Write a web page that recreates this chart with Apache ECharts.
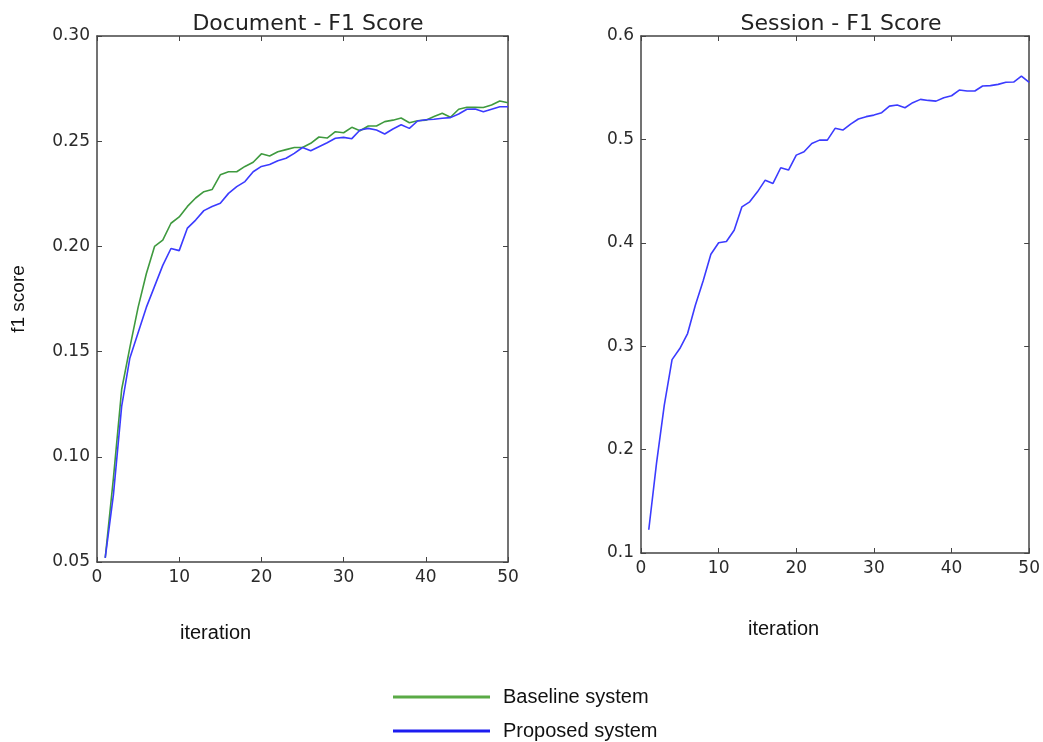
<!DOCTYPE html>
<html>
<head>
<meta charset="utf-8">
<script src="https://cdn.jsdelivr.net/npm/echarts@6/dist/echarts.min.js"></script>
<style>
html,body{margin:0;padding:0;background:#fff;}
#chart{width:1043px;height:742px;}
</style>
</head>
<body>
<div id="chart"></div>
<script>
const iterations = [1,2,3,4,5,6,7,8,9,10,11,12,13,14,15,16,17,18,19,20,21,22,23,24,25,26,27,28,29,30,31,32,33,34,35,36,37,38,39,40,41,42,43,44,45,46,47,48,49,50];

const baselineDocument = [0.052,0.090,0.132,0.152,0.171,0.187,0.200,0.203,0.211,0.214,0.219,0.223,0.226,0.227,0.234,0.2355,0.2355,0.238,0.240,0.244,0.243,0.245,0.246,0.247,0.247,0.249,0.252,0.2515,0.2545,0.254,0.2566,0.255,0.2572,0.2572,0.2593,0.260,0.261,0.2588,0.2597,0.260,0.2617,0.2633,0.2614,0.2652,0.2661,0.2661,0.266,0.2672,0.2691,0.2683];

const proposedDocument = [0.052,0.082,0.124,0.147,0.159,0.171,0.181,0.191,0.199,0.198,0.2087,0.2125,0.217,0.219,0.2205,0.2252,0.2284,0.2308,0.2355,0.238,0.2389,0.2407,0.2419,0.2442,0.247,0.2455,0.2474,0.2493,0.2514,0.2518,0.2512,0.2553,0.2561,0.2553,0.2534,0.2558,0.2578,0.2561,0.2596,0.2602,0.2604,0.2609,0.2612,0.2629,0.2652,0.2653,0.264,0.2652,0.2664,0.2664];

const proposedSession = [0.1225,0.187,0.243,0.287,0.2977,0.3122,0.3396,0.363,0.389,0.400,0.4013,0.4122,0.4348,0.4396,0.4493,0.4606,0.4574,0.4726,0.4703,0.4848,0.488,0.4961,0.4993,0.4993,0.5107,0.509,0.5148,0.5197,0.522,0.5235,0.5258,0.5322,0.5332,0.5306,0.5355,0.5387,0.5377,0.537,0.5403,0.5422,0.5477,0.5468,0.5468,0.5516,0.552,0.5532,0.5552,0.5555,0.5613,0.5552];

const xTicks = {min: 0, max: 50, interval: 10};
const docTicks = {min: 0.05, max: 0.30, interval: 0.05};
const sessTicks = {min: 0.1, max: 0.6, interval: 0.1};

const titles = ['Document - F1 Score', 'Session - F1 Score'];
const seriesNames = ['Baseline system', 'Proposed system'];

const GREEN = '#3f9a3f';
const BLUE = '#3b3bff';
const FRAME = '#444';
const TICKFONT = 'DejaVu Sans';

function pairs(arr){ return iterations.map((x,i)=>[x, arr[i]]); }

function xAxes(gi){
  const base = {
    type:'value', gridIndex: gi, min: xTicks.min, max: xTicks.max, interval: xTicks.interval,
    splitLine:{show:false},
    axisLine:{show:true, onZero:false, lineStyle:{color:FRAME, width:1.5}},
    axisTick:{show:true, inside:true, length:5, lineStyle:{color:FRAME, width:1}}
  };
  return [
    Object.assign({}, base, {position:'bottom',
      axisLabel:{show:true, margin:7, color:'#2a2a2a', fontSize:17, fontFamily:TICKFONT}}),
    Object.assign({}, base, {position:'top', axisLabel:{show:false}})
  ];
}
function yAxes(gi, t, dec){
  const base = {
    type:'value', gridIndex: gi, min: t.min, max: t.max, interval: t.interval,
    splitLine:{show:false},
    axisLine:{show:true, onZero:false, lineStyle:{color:FRAME, width:1.5}},
    axisTick:{show:true, inside:true, length:5, lineStyle:{color:FRAME, width:1}}
  };
  return [
    Object.assign({}, base, {position:'left',
      axisLabel:{show:true, margin:7, color:'#2a2a2a', fontSize:17, fontFamily:TICKFONT,
        formatter: v => Number(v).toFixed(dec)}}),
    Object.assign({}, base, {position:'right', axisLabel:{show:false}})
  ];
}

const yLeft = yAxes(0, docTicks, 2);
yLeft[0].name = 'f1 score';
yLeft[0].nameLocation = 'middle';
yLeft[0].nameRotate = 90;
yLeft[0].nameGap = 69;
yLeft[0].nameTextStyle = {fontSize:19, color:'#111', fontFamily:'Liberation Sans'};

const legendText = {fontSize:20, color:'#111', fontFamily:'Liberation Sans', lineHeight:22, padding:[0,0,0,8]};

const chart = echarts.init(document.getElementById('chart'), null, {renderer:'canvas'});
chart.setOption({
  backgroundColor:'#fff',
  animation:false,
  title:[
    {text:titles[0], left:303, top:8, textAlign:'center',
      textStyle:{fontSize:22, fontWeight:'normal', color:'#222', fontFamily:TICKFONT}},
    {text:titles[1], left:836, top:8, textAlign:'center',
      textStyle:{fontSize:22, fontWeight:'normal', color:'#222', fontFamily:TICKFONT}}
  ],
  graphic:[
    {type:'text', left:180, top:623, style:{text:'iteration', fontSize:20, fill:'#111', fontFamily:'Liberation Sans'}},
    {type:'text', left:748, top:619, style:{text:'iteration', fontSize:20, fill:'#111', fontFamily:'Liberation Sans'}}
  ],
  legend:[
    {left:393, top:686, padding:0, itemWidth:97, itemHeight:3, icon:'rect', textStyle:legendText,
      data:[{name:seriesNames[0], itemStyle:{color:'#5aaa46'}}]},
    {left:393, top:720, padding:0, itemWidth:97, itemHeight:3, icon:'rect', textStyle:legendText,
      data:[{name:seriesNames[1], itemStyle:{color:'#1c1cf0'}}]}
  ],
  grid:[
    {left:97, top:36, width:411, height:526},
    {left:641, top:36, width:391, height:517}
  ],
  xAxis:[...xAxes(0), ...xAxes(1)],
  yAxis:[...yLeft, ...yAxes(1, sessTicks, 1)],
  series:[
    {name:seriesNames[0], type:'line', xAxisIndex:0, yAxisIndex:0, data:pairs(baselineDocument),
      showSymbol:false, lineStyle:{color:GREEN, width:1.6}, itemStyle:{color:GREEN}},
    {name:seriesNames[1], type:'line', xAxisIndex:0, yAxisIndex:0, data:pairs(proposedDocument),
      showSymbol:false, lineStyle:{color:BLUE, width:1.6}, itemStyle:{color:BLUE}},
    {name:seriesNames[1], type:'line', xAxisIndex:2, yAxisIndex:2, data:pairs(proposedSession),
      showSymbol:false, lineStyle:{color:BLUE, width:1.6}, itemStyle:{color:BLUE}}
  ]
});
</script>
</body>
</html>
